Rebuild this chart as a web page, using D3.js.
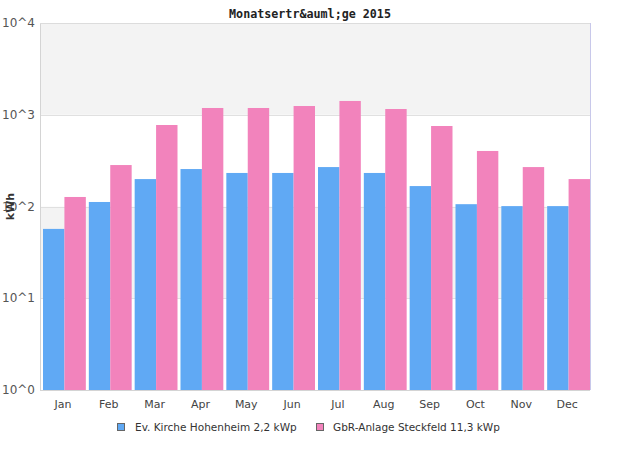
<!DOCTYPE html>
<html><head><meta charset="utf-8">
<script src="https://cdn.jsdelivr.net/npm/d3@7"></script>
<style>body{margin:0;background:#fff}svg{display:block}</style>
</head><body>
<script>
const months = ["Jan","Feb","Mar","Apr","May","Jun","Jul","Aug","Sep","Oct","Nov","Dec"];
const seriesNames = ["Ev. Kirche Hohenheim 2,2 kWp","GbR-Anlage Steckfeld 11,3 kWp"];
const kirche = [57,112,199,256,232,232,269,232,167,106,101,101];
const steckfeld = [127,283,773,1185,1185,1245,1413,1155,754,403,269,199];
const yTicks = [1,10,100,1000,10000];
const yTickLabels = ["10^0","10^1","10^2","10^3","10^4"];
const colors = ["#60a9f4","#f283bc"];

const W=620,H=450, m={l:40,r:30,t:23,b:60};
const svg=d3.select("body").append("svg").attr("width",W).attr("height",H);
const x=d3.scaleBand().domain(months).range([m.l,W-m.r]).padding(0);
const bw=x.bandwidth();
const x1=d3.scaleBand().domain([0,1]).range([3,bw]);
const y=d3.scaleLog().domain([1,10000]).range([H-m.b,m.t]);

// alternating bands
for(let i=0;i<4;i++){
  svg.append("rect").attr("x",m.l).attr("width",W-m.r-m.l)
    .attr("y",y(yTicks[i+1])).attr("height",y(yTicks[i])-y(yTicks[i+1]))
    .attr("fill", i%2===1?"#f3f3f3":"#fff");
}
svg.selectAll("line.grid").data(yTicks).join("line").attr("class","grid")
  .attr("x1",m.l).attr("x2",W-m.r).attr("y1",d=>Math.round(y(d))+0.5).attr("y2",d=>Math.round(y(d))+0.5)
  .attr("stroke","#e0e0e0").attr("stroke-width",1);

const data=[kirche,steckfeld];
months.forEach((mo,i)=>{
  data.forEach((s,j)=>{
    svg.append("rect").attr("x",x(mo)+x1(j)).attr("width",x1.bandwidth())
      .attr("y",y(s[i])).attr("height",y(1)-y(s[i])).attr("fill",colors[j]);
  });
});

// borders
svg.append("line").attr("x1",m.l+0.5).attr("x2",m.l+0.5).attr("y1",m.t).attr("y2",H-m.b).attr("stroke","#d4d4d4");
svg.append("line").attr("x1",m.l).attr("x2",W-m.r).attr("y1",H-m.b+0.5).attr("y2",H-m.b+0.5).attr("stroke","#d4d4d4");
svg.append("line").attr("x1",m.l).attr("x2",W-m.r).attr("y1",m.t+0.5).attr("y2",m.t+0.5).attr("stroke","#dcdcdc");
svg.append("line").attr("x1",W-m.r+0.5).attr("x2",W-m.r+0.5).attr("y1",m.t).attr("y2",H-m.b).attr("stroke","#c8c8ea");

// y labels
svg.selectAll("text.yl").data(yTicks).join("text").attr("class","yl")
  .attr("x",2).attr("y",d=>y(d)+4).text((d,i)=>yTickLabels[i])
  .attr("font-family","DejaVu Sans").attr("font-size",12).attr("fill","#555");
svg.append("text").attr("transform",`translate(13.5,${y(100)}) rotate(-90)`).attr("text-anchor","middle")
  .text("kWh").attr("font-family","DejaVu Sans").attr("font-weight","bold").attr("font-size",11).attr("fill","#333");

// x labels
svg.selectAll("text.xl").data(months).join("text").attr("class","xl")
  .attr("x",d=>x(d)+bw/2).attr("y",408).attr("text-anchor","middle").text(d=>d)
  .attr("font-family","DejaVu Sans").attr("font-size",11).attr("fill","#444");

// title
svg.append("text").attr("x",310).attr("y",18).attr("text-anchor","middle").text("Monatsertr&auml;ge 2015")
  .attr("font-family","DejaVu Sans Mono").attr("font-weight","bold").attr("font-size",11.7).attr("fill","#222");

// legend
const lx=[117,316], tx=[135,333];
seriesNames.forEach((n,j)=>{
  svg.append("rect").attr("x",lx[j]+0.5).attr("y",423.5).attr("width",7).attr("height",7)
    .attr("fill",colors[j]).attr("stroke","#666");
  svg.append("text").attr("x",tx[j]).attr("y",431).text(n)
    .attr("font-family","DejaVu Sans").attr("font-size",10.5).attr("fill","#333");
});
</script>
</body></html>
